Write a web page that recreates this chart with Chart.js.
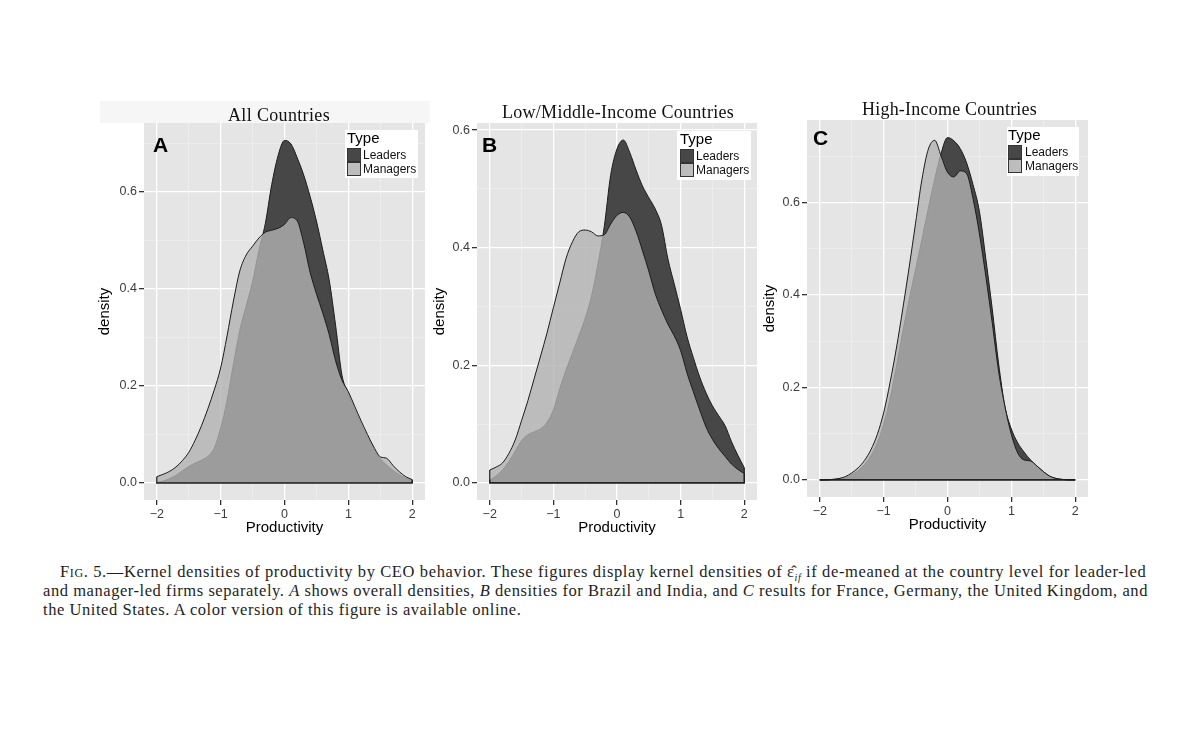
<!DOCTYPE html>
<html>
<head>
<meta charset="utf-8">
<script src="https://cdn.jsdelivr.net/npm/chart.js@4.4.1/dist/chart.umd.min.js"></script>
<style>
  body { margin: 0; background: #fff; width: 1200px; height: 756px; position: relative; overflow: hidden;
         font-family: "Liberation Sans", Arial, sans-serif; }
  canvas { position: absolute; }
  .band { position: absolute; background: #f6f6f6; }
  .title { position: absolute; font-family: "Liberation Serif", serif; font-size: 18px; line-height: 20px;
           white-space: nowrap; color: #111; }
  .letter { position: absolute; font-weight: bold; font-size: 21px; line-height: 21px; color: #000; }
  .legend { position: absolute; background: #fff; }
  .legend div { position: absolute; white-space: nowrap; }
  .lg-title { font-size: 15px; line-height: 15px; color: #000; }
  .lg-lab { font-size: 12px; line-height: 14px; color: #111; }
  .sw { width: 14px; height: 14px; box-sizing: border-box; border: 1px solid #333; }
  .cap { position: absolute; font-family: "Liberation Serif", serif; font-size: 16.5px; line-height: 19px;
         white-space: nowrap; color: #1e1e1e; }
  .cap sub { font-size: 10px; line-height: 0; font-style: italic; }
</style>
</head>
<body>

<div class="band" style="left:100px;top:101px;width:330px;height:22px"></div>

<canvas id="chartA" width="345" height="429" style="left:90px;top:109px"></canvas>
<canvas id="chartB" width="342" height="429" style="left:425px;top:109px"></canvas>
<canvas id="chartC" width="341" height="429" style="left:757px;top:106px"></canvas>

<div class="title" id="titleA" style="left:228px;top:105px">All Countries</div>
<div class="title" id="titleB" style="left:502px;top:102px">Low/Middle-Income Countries</div>
<div class="title" id="titleC" style="left:862px;top:99px">High-Income Countries</div>

<div class="letter" style="left:153px;top:134px">A</div>
<div class="letter" style="left:482px;top:134px">B</div>
<div class="letter" style="left:813px;top:127px">C</div>

<div class="legend" style="left:345px;top:130px;width:73px;height:48px">
  <div class="lg-title" style="left:2px;top:0">Type</div>
  <div class="sw" style="left:2px;top:18px;background:#474747"></div>
  <div class="sw" style="left:2px;top:32px;background:#bdbdbd"></div>
  <div class="lg-lab" style="left:18px;top:18px">Leaders</div>
  <div class="lg-lab" style="left:18px;top:32px">Managers</div>
</div>
<div class="legend" style="left:677px;top:131px;width:74px;height:49px">
  <div class="lg-title" style="left:3px;top:0">Type</div>
  <div class="sw" style="left:3px;top:18px;background:#474747"></div>
  <div class="sw" style="left:3px;top:32px;background:#bdbdbd"></div>
  <div class="lg-lab" style="left:19px;top:18px">Leaders</div>
  <div class="lg-lab" style="left:19px;top:32px">Managers</div>
</div>
<div class="legend" style="left:1007px;top:127px;width:72px;height:49px">
  <div class="lg-title" style="left:1px;top:0">Type</div>
  <div class="sw" style="left:1px;top:18px;background:#474747"></div>
  <div class="sw" style="left:1px;top:32px;background:#bdbdbd"></div>
  <div class="lg-lab" style="left:18px;top:18px">Leaders</div>
  <div class="lg-lab" style="left:18px;top:32px">Managers</div>
</div>

<div class="cap" id="cap1" style="left:60px;top:562px"><span style="font-variant:small-caps">Fig.</span> 5.—Kernel densities of productivity by CEO behavior. These figures display kernel densities of ε̂<sub>if</sub> if de-meaned at the country level for leader-led</div>
<div class="cap" id="cap2" style="left:43px;top:581px">and manager-led firms separately. <i>A</i> shows overall densities, <i>B</i> densities for Brazil and India, and <i>C</i> results for France, Germany, the United Kingdom, and</div>
<div class="cap" id="cap3" style="left:43px;top:600px">the United States. A color version of this figure is available online.</div>

<script>
// evaluation grid of the kernel densities (productivity)
const xGrid = [-2.0, -1.9, -1.8, -1.7, -1.6, -1.5, -1.4, -1.3, -1.2, -1.1,
               -1.0, -0.9, -0.8, -0.7, -0.6, -0.5, -0.4, -0.3, -0.2, -0.1,
                0.0,
                0.1, 0.2, 0.3, 0.4, 0.5, 0.6, 0.7, 0.8, 0.9, 1.0,
                1.1, 1.2, 1.3, 1.4, 1.5, 1.6, 1.7, 1.8, 1.9, 2.0];

// A: all countries
const leadersA = [0.001, 0.004, 0.009, 0.016, 0.025, 0.034, 0.041, 0.047, 0.055, 0.072,
                  0.113, 0.170, 0.245, 0.315, 0.365, 0.415, 0.480, 0.535, 0.615, 0.675,
                  0.706,
                  0.699, 0.670, 0.635, 0.591, 0.540, 0.480, 0.418, 0.325, 0.222, 0.185,
                  0.152, 0.122, 0.095, 0.070, 0.050, 0.037, 0.026, 0.017, 0.010, 0.005];
const managersA = [0.013, 0.018, 0.024, 0.033, 0.046, 0.063, 0.088, 0.118, 0.153, 0.192,
                   0.237, 0.303, 0.375, 0.437, 0.470, 0.488, 0.505, 0.517, 0.521, 0.525,
                   0.533,
                   0.547, 0.540, 0.495, 0.435, 0.390, 0.350, 0.306, 0.252, 0.212, 0.188,
                   0.158, 0.128, 0.100, 0.074, 0.054, 0.051, 0.036, 0.023, 0.013, 0.007];

// B: low/middle-income countries
const leadersB = [0.005, 0.012, 0.022, 0.036, 0.054, 0.072, 0.082, 0.087, 0.092, 0.103,
                  0.124, 0.160, 0.192, 0.221, 0.250, 0.280, 0.318, 0.372, 0.436, 0.523,
                  0.568,
                  0.583, 0.562, 0.532, 0.505, 0.485, 0.466, 0.438, 0.381, 0.338, 0.295,
                  0.249, 0.213, 0.180, 0.153, 0.131, 0.114, 0.097, 0.070, 0.047, 0.026];
const managersB = [0.022, 0.027, 0.034, 0.050, 0.073, 0.106, 0.140, 0.178, 0.216, 0.255,
                   0.298, 0.340, 0.382, 0.410, 0.427, 0.430, 0.427, 0.420, 0.422, 0.440,
                   0.455,
                   0.460, 0.452, 0.428, 0.395, 0.360, 0.322, 0.294, 0.270, 0.250, 0.225,
                   0.187, 0.155, 0.124, 0.095, 0.074, 0.058, 0.045, 0.032, 0.023, 0.016];

// C: high-income countries
const leadersC = [0.000, 0.000, 0.001, 0.002, 0.005, 0.011, 0.020, 0.033, 0.052, 0.080,
                  0.120, 0.175, 0.245, 0.320, 0.390, 0.455, 0.520, 0.587, 0.650, 0.706,
                  0.740,
                  0.733, 0.716, 0.685, 0.638, 0.580, 0.478, 0.370, 0.252, 0.158, 0.110,
                  0.080, 0.060, 0.043, 0.030, 0.018, 0.008, 0.003, 0.001, 0.000, 0.000];
const managersC = [0.000, 0.000, 0.001, 0.003, 0.007, 0.015, 0.026, 0.042, 0.065, 0.098,
                   0.145, 0.210, 0.285, 0.370, 0.460, 0.555, 0.650, 0.715, 0.734, 0.700,
                   0.665,
                   0.655, 0.668, 0.662, 0.608, 0.532, 0.440, 0.340, 0.235, 0.158, 0.098,
                   0.058, 0.043, 0.041, 0.030, 0.018, 0.008, 0.003, 0.001, 0.000, 0.000];

// axes
const xRange = [-2.2, 2.2];
const yRangeA = [-0.035, 0.742];
const yRangeB = [-0.029, 0.612];
const yRangeC = [-0.037, 0.778];
const xBreaks = [-2, -1.5, -1, -0.5, 0, 0.5, 1, 1.5, 2];
const xMajor = [-2, -1, 0, 1, 2];
const xTickLabels = ['\u22122', '\u22121', '0', '1', '2'];
const yBreaks = [0, 0.1, 0.2, 0.3, 0.4, 0.5, 0.6, 0.7];
const yMajor = [0, 0.2, 0.4, 0.6];
const yTickLabels = ['0.0', '0.2', '0.4', '0.6'];

Chart.defaults.font.family = '"Liberation Sans", Arial, sans-serif';

const panelBg = {
  id: 'panelBg',
  beforeDraw(chart) {
    const { ctx, chartArea: a } = chart;
    ctx.save();
    ctx.fillStyle = '#e5e5e5';
    ctx.fillRect(a.left, a.top, a.right - a.left, a.bottom - a.top);
    ctx.restore();
  }
};

function isMajor(list, v) {
  return list.some(m => Math.abs(m - v) < 1e-9);
}

function toPoints(series) {
  return xGrid.map((x, i) => ({ x: x, y: series[i] }));
}

// closing outline of the density polygon: vertical ends and the baseline
function outline(series) {
  const n = xGrid.length - 1;
  return [
    { x: xGrid[0], y: series[0] }, { x: xGrid[0], y: 0 },
    { x: xGrid[n], y: 0 }, { x: xGrid[n], y: series[n] }
  ];
}

function makePanel(id, leaders, managers, yRange, yAxisWidth, yTitlePad) {
  const line = { borderColor: '#1c1c1c', borderWidth: 1, pointRadius: 0,
                 cubicInterpolationMode: 'monotone', tension: 0.4 };
  const edge = { fill: false, tension: 0, cubicInterpolationMode: 'default', borderWidth: 1.2, order: 0 };
  new Chart(document.getElementById(id), {
    type: 'line',
    data: {
      datasets: [
        Object.assign({}, line, edge, { label: 'edgeM', data: outline(managers) }),
        Object.assign({}, line, edge, { label: 'edgeL', data: outline(leaders) }),
        Object.assign({}, line, { label: 'Managers', data: toPoints(managers), fill: 'origin',
                                  backgroundColor: 'rgba(178,178,178,0.8)', order: 1 }),
        Object.assign({}, line, { label: 'Leaders', data: toPoints(leaders), fill: 'origin',
                                  backgroundColor: '#474747', order: 2 })
      ]
    },
    options: {
      responsive: false,
      animation: false,
      events: [],
      layout: { padding: { top: 14, right: 10, left: 0, bottom: 0 } },
      plugins: { legend: { display: false }, tooltip: { enabled: false }, title: { display: false } },
      scales: {
        x: {
          type: 'linear', min: xRange[0], max: xRange[1],
          afterBuildTicks: s => { s.ticks = xBreaks.map(v => ({ value: v })); },
          afterFit: s => { s.height = 38; },
          border: { display: false },
          grid: {
            color: c => (c.tick && isMajor(xMajor, c.tick.value)) ? '#ffffff' : '#f2f2f2',
            lineWidth: c => (c.tick && isMajor(xMajor, c.tick.value)) ? 1.3 : 0.6,
            tickColor: c => (c.tick && isMajor(xMajor, c.tick.value)) ? '#333333' : 'rgba(0,0,0,0)',
            tickLength: 5
          },
          ticks: {
            autoSkip: false, maxRotation: 0, minRotation: 0, padding: 2,
            color: '#3d3d3d', font: { size: 12.5 },
            callback: v => {
              const i = xMajor.findIndex(m => Math.abs(m - v) < 1e-9);
              return i >= 0 ? xTickLabels[i] : '';
            }
          },
          title: { display: true, text: 'Productivity', color: '#000', font: { size: 15 },
                   padding: { top: 0, bottom: 1 } }
        },
        y: {
          type: 'linear', min: yRange[0], max: yRange[1],
          afterBuildTicks: s => { s.ticks = yBreaks.filter(v => v <= yRange[1]).map(v => ({ value: v })); },
          afterFit: s => { s.width = yAxisWidth; },
          border: { display: false },
          grid: {
            color: c => (c.tick && isMajor(yMajor, c.tick.value)) ? '#ffffff' : '#f2f2f2',
            lineWidth: c => (c.tick && isMajor(yMajor, c.tick.value)) ? 1.3 : 0.6,
            tickColor: c => (c.tick && isMajor(yMajor, c.tick.value)) ? '#333333' : 'rgba(0,0,0,0)',
            tickLength: 5
          },
          ticks: {
            autoSkip: false, padding: 2, color: '#3d3d3d', font: { size: 12.5 },
            callback: v => {
              const i = yMajor.findIndex(m => Math.abs(m - v) < 1e-9);
              return i >= 0 ? yTickLabels[i] : '';
            }
          },
          title: { display: true, text: 'density', color: '#000', font: { size: 15 },
                   padding: { top: yTitlePad, bottom: 0 } }
        }
      }
    },
    plugins: [panelBg]
  });
}

makePanel('chartA', leadersA, managersA, yRangeA, 54, 6);
makePanel('chartB', leadersB, managersB, yRangeB, 52, 6);
makePanel('chartC', leadersC, managersC, yRangeC, 50, 4);

// stretch text to the widths it has in the printed figure
function spread(el, target) {
  const w = el.getBoundingClientRect().width;
  const ls = (target - w) / el.textContent.length;
  el.style.letterSpacing = ls + 'px';
  return ls;
}
spread(document.getElementById('titleA'), 102);
spread(document.getElementById('titleB'), 232);
spread(document.getElementById('titleC'), 175);
spread(document.getElementById('cap1'), 1087);
const ls2 = spread(document.getElementById('cap2'), 1105);
document.getElementById('cap3').style.letterSpacing = ls2 + 'px';
</script>
</body>
</html>
